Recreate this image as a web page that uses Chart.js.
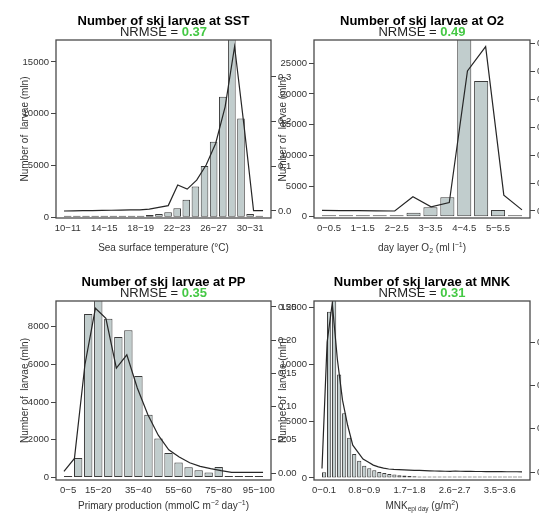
<!DOCTYPE html>
<html>
<head>
<meta charset="utf-8">
<script src="https://cdn.jsdelivr.net/npm/chart.js@4.4.1/dist/chart.umd.min.js"></script>
<style>
  html, body { margin: 0; padding: 0; background: #fff; overflow: hidden; }
  #wrap { position: relative; width: 539px; height: 516px; }
  #wrap canvas { position: absolute; left: 0; top: 0; }
</style>
</head>
<body>
<div id="wrap">
  <canvas id="sst" width="539" height="516"></canvas>
  <canvas id="o2" width="539" height="516"></canvas>
  <canvas id="pp" width="539" height="516"></canvas>
  <canvas id="mnk" width="539" height="516"></canvas>
</div>
<script>
// ---- data ----
// SST
const sstCategories = ['10−11','11−12','12−13','13−14','14−15','15−16','16−17','17−18','18−19','19−20','20−21',
  '21−22','22−23','23−24','24−25','25−26','26−27','27−28','28−29','29−30','30−31','31−32'];
const sstLabelIdx = [0, 4, 8, 12, 16, 20];
const sstBars = [20, 25, 30, 35, 45, 55, 70, 100, 160, 230, 330, 480, 870, 1700, 2970, 4950, 7300, 11650, 19000, 9550, 330, 40];
const sstLine = [0, 0.0003, 0.0006, 0.001, 0.0013, 0.0016, 0.002, 0.0023, 0.0025, 0.004, 0.008, 0.012,
  0.058, 0.049, 0.069, 0.103, 0.151, 0.233, 0.368, 0.19, 0.001, 0.001];
const sstTicks = [0, 5000, 10000, 15000];
const sstDensityTicks = [0, 0.1, 0.2, 0.3];

// O2
const o2Categories = ['0−0.5','0.5−1','1−1.5','1.5−2','2−2.5','2.5−3','3−3.5','3.5−4','4−4.5','4.5−5','5−5.5','5.5−6'];
const o2LabelIdx = [0, 2, 4, 6, 8, 10];
const o2Bars = [20, 20, 30, 60, 80, 650, 1520, 3150, 31000, 22100, 1090, 200];
const o2Line = [0.002, 0.0015, 0.001, 0.0005, 0, 0.051, 0.015, 0.030, 0.502, 0.589, 0.057, 0.004];
const o2Ticks = [0, 5000, 10000, 15000, 20000, 25000];
const o2DensityTicks = [0, 0.1, 0.2, 0.3, 0.4, 0.5, 0.6];

// PP
const ppCategories = ['0−5','5−10','10−15','15−20','20−25','25−30','30−35','35−40','40−45','45−50',
  '50−55','55−60','60−65','65−70','70−75','75−80','80−85','85−90','90−95','95−100'];
const ppLabelIdx = [0, 3, 7, 11, 15, 19];
const ppBars = [60, 1030, 8660, 9600, 8410, 7440, 7800, 5380, 3330, 2060, 1300, 800, 540, 380, 270, 560, 30, 25, 20, 15];
const ppLine = [0.0026, 0.022, 0.163, 0.248, 0.233, 0.158, 0.178, 0.128, 0.088, 0.057,
  0.035, 0.024, 0.0155, 0.010, 0.0065, 0.0035, 0.001, 0.001, 0.001, 0.001];
const ppTicks = [0, 2000, 4000, 6000, 8000];
const ppDensityTicks = [0, 0.05, 0.10, 0.15, 0.20, 0.25];

// MNK
const mnkCategories = ['0−0.1','0.1−0.2','0.2−0.3','0.3−0.4','0.4−0.5','0.5−0.6','0.6−0.7','0.7−0.8','0.8−0.9','0.9−1',
  '1−1.1','1.1−1.2','1.2−1.3','1.3−1.4','1.4−1.5','1.5−1.6','1.6−1.7','1.7−1.8','1.8−1.9','1.9−2',
  '2−2.1','2.1−2.2','2.2−2.3','2.3−2.4','2.4−2.5','2.5−2.6','2.6−2.7','2.7−2.8','2.8−2.9','2.9−3',
  '3−3.1','3.1−3.2','3.2−3.3','3.3−3.4','3.4−3.5','3.5−3.6','3.6−3.7','3.7−3.8','3.8−3.9','3.9−4'];
const mnkLabelIdx = [0, 8, 17, 26, 35];
const mnkBars = [500, 14600, 17500, 9100, 5690, 3540, 2110, 1520, 1080, 850, 680, 530, 440, 360, 300, 250, 210, 180, 150, 130,
  110, 95, 80, 70, 60, 50, 45, 40, 35, 30, 28, 25, 22, 20, 18, 15, 12, 10, 8, 5];
const mnkLine = [0.004, 0.15, 0.195, 0.13, 0.083, 0.054, 0.031, 0.023, 0.015, 0.0115, 0.008, 0.006, 0.0046, 0.0035, 0.003,
  0.0028, 0.0025, 0.0022, 0.002, 0.0018, 0.0016, 0.0014, 0.0012, 0.001, 0.0009, 0.0008, 0.0012, 0.0009, 0.0008, 0.0007,
  0.0006, 0.0006, 0.0005, 0.0005, 0.0004, 0.0004, 0.0003, 0.0003, 0.0003, 0.0002];
const mnkTicks = [0, 5000, 10000, 15000];
const mnkDensityTicks = [0, 0.05, 0.10, 0.15];

// ---- styling ----
const FONT = '"Liberation Sans", Arial, Helvetica, sans-serif';
const BAR_FILL = '#c1cdcd';
const INK = '#333';
const GREEN = '#44c844';

function sized(px, bold) { return (bold ? 'bold ' : '') + px + 'px ' + FONT; }

// draw a row of text pieces (different fonts / colours / offsets) centred on cx
function drawRich(ctx, parts, cx, y) {
  let w = 0;
  parts.forEach(p => { ctx.font = p.font; w += ctx.measureText(p.text).width; });
  let x = cx - w / 2;
  ctx.textAlign = 'left';
  ctx.textBaseline = 'alphabetic';
  parts.forEach(p => {
    ctx.font = p.font;
    ctx.fillStyle = p.color || INK;
    ctx.fillText(p.text, x, y + (p.dy || 0));
    x += ctx.measureText(p.text).width;
  });
}

function panelPlugin(p) {
  return {
    id: 'panelText',
    afterDatasetsDraw(chart) {
      // frame round the plot region
      const a = chart.chartArea, ctx = chart.ctx;
      ctx.save();
      ctx.strokeStyle = '#4a4a4a';
      ctx.lineWidth = 1.3;
      ctx.strokeRect(a.left, a.top, a.right - a.left, a.bottom - a.top);
      ctx.restore();
    },
    afterDraw(chart) {
      const a = chart.chartArea, ctx = chart.ctx;
      const cx = (a.left + a.right) / 2;
      ctx.save();
      drawRich(ctx, [{ text: p.title, font: sized(13, true), color: '#000' }], cx, a.top - 15.5);
      drawRich(ctx, [
        { text: 'NRMSE = ', font: sized(13), color: '#222' },
        { text: p.nrmse, font: sized(13, true), color: GREEN }
      ], cx, a.top - 3.8);
      drawRich(ctx, p.xTitle, cx, p.xTitleY);
      ctx.restore();
    }
  };
}

const tickFont = { family: FONT, size: 9.5 };

function makePanel(id, p) {
  const n = p.categories.length;
  // barplot-like spacing: bar width 1, gap 0.2, 4% extension each side
  const pad = (0.5 + 0.04 * (1.2 * n - 0.2)) / 1.2;
  const b = p.box;
  new Chart(document.getElementById(id), {
    type: 'bar',
    data: {
      datasets: [
        {
          type: 'line',
          data: p.line.map((v, i) => ({ x: i, y: v })),
          xAxisID: 'x2', yAxisID: 'y2',
          borderColor: '#262626', borderWidth: 1.2,
          pointRadius: 0, tension: 0, order: 0
        },
        {
          type: 'bar',
          data: p.bars.map((v, i) => ({ x: i, y: v })),
          xAxisID: 'x', yAxisID: 'y', grouped: false,
          backgroundColor: BAR_FILL, borderColor: '#3a3a3a', borderWidth: 1, borderSkipped: false,
          minBarLength: 1.5,
          categoryPercentage: 1, barPercentage: 1 / 1.2, order: 1
        }
      ]
    },
    options: {
      responsive: false,
      animation: false,
      devicePixelRatio: 1,
      layout: { padding: { left: b.l - p.lw, right: 539 - b.r - p.rw, top: b.t, bottom: 516 - b.b - 30 } },
      plugins: { legend: { display: false }, tooltip: { enabled: false } },
      scales: {
        x: {
          type: 'linear', min: -pad, max: n - 1 + pad, offset: false,
          grid: { display: false, drawTicks: false, tickLength: 0, offset: false }, border: { display: false },
          afterBuildTicks: s => { s.ticks = p.labelIdx.map(v => ({ value: v })); },
          afterFit: s => { s.height = 30; },
          ticks: { autoSkip: false, maxRotation: 0, padding: 5, color: INK, font: tickFont,
                   callback: v => p.categories[v] }
        },
        // the model curve is drawn on its own index axis (1..n with 4% extension)
        x2: { type: 'linear', display: false, offset: false, grid: { offset: false },
              min: -0.04 * (n - 1), max: 1.04 * (n - 1) },
        y: {
          type: 'linear', position: 'left', min: p.yMin, max: p.yMax,
          afterBuildTicks: s => { s.ticks = p.yTicks.map(v => ({ value: v })); },
          afterFit: s => { s.width = p.lw; },
          grid: { drawOnChartArea: false, tickLength: 5, tickColor: '#444' },
          border: { display: false },
          ticks: { autoSkip: false, padding: 2, color: INK, font: tickFont, callback: v => String(v) },
          title: { display: true, text: 'Number of  larvae (mln)', color: INK,
                   font: { family: FONT, size: 10 }, padding: { top: p.yTitlePad, bottom: 0 } }
        },
        y2: {
          type: 'linear', position: 'right', min: p.dMin, max: p.dMax,
          afterBuildTicks: s => { s.ticks = p.dTicks.map(v => ({ value: v })); },
          afterFit: s => { s.width = p.rw; },
          grid: { drawOnChartArea: false, tickLength: 5, tickColor: '#444' },
          border: { display: false },
          ticks: { autoSkip: false, padding: 2, color: INK, font: tickFont, callback: v => v.toFixed(p.dDigits) }
        }
      }
    },
    plugins: [panelPlugin(p)]
  });
}

const t10 = sized(10), t7 = sized(7), t6 = sized(6.5);

makePanel('sst', {
  categories: sstCategories, labelIdx: sstLabelIdx, bars: sstBars, line: sstLine,
  yTicks: sstTicks, yMin: -68, yMax: 17124,
  dTicks: sstDensityTicks, dMin: -0.0157, dMax: 0.3826, dDigits: 1,
  box: { l: 56, r: 271, t: 40, b: 218 }, lw: 56, rw: 30, yTitlePad: 19,
  title: 'Number of skj larvae at SST', nrmse: '0.37', xTitleY: 250.5,
  xTitle: [{ text: 'Sea surface temperature (°C)', font: t10 }]
});

makePanel('o2', {
  categories: o2Categories, labelIdx: o2LabelIdx, bars: o2Bars, line: o2Line,
  yTicks: o2Ticks, yMin: -212, yMax: 28797,
  dTicks: o2DensityTicks, dMin: -0.0251, dMax: 0.6129, dDigits: 1,
  box: { l: 314, r: 530, t: 40, b: 218 }, lw: 44, rw: 9, yTitlePad: 7,
  title: 'Number of skj larvae at O2', nrmse: '0.49', xTitleY: 250.5,
  xTitle: [
    { text: 'day layer O', font: t10 }, { text: '2', font: t7, dy: 2 },
    { text: ' (ml l', font: t10 }, { text: '−1', font: t7, dy: -4 }, { text: ')', font: t10 }
  ]
});

makePanel('pp', {
  categories: ppCategories, labelIdx: ppLabelIdx, bars: ppBars, line: ppLine,
  yTicks: ppTicks, yMin: -132, yMax: 9351,
  dTicks: ppDensityTicks, dMin: -0.0105, dMax: 0.259, dDigits: 2,
  box: { l: 56, r: 271, t: 301, b: 480 }, lw: 56, rw: 30, yTitlePad: 19,
  title: 'Number of skj larvae at PP', nrmse: '0.35', xTitleY: 508.5,
  xTitle: [
    { text: 'Primary production (mmolC m', font: t10 }, { text: '−2', font: t7, dy: -4 },
    { text: ' day', font: t10 }, { text: '−1', font: t7, dy: -4 }, { text: ')', font: t10 }
  ]
});

makePanel('mnk', {
  categories: mnkCategories, labelIdx: mnkLabelIdx, bars: mnkBars, line: mnkLine,
  yTicks: mnkTicks, yMin: -176, yMax: 15554,
  dTicks: mnkDensityTicks, dMin: -0.0092, dMax: 0.1975, dDigits: 2,
  box: { l: 314, r: 530, t: 301, b: 480 }, lw: 44, rw: 9, yTitlePad: 7,
  title: 'Number of skj larvae at MNK', nrmse: '0.31', xTitleY: 508.5,
  xTitle: [
    { text: 'MNK', font: t10 }, { text: 'epi day', font: t6, dy: 2 },
    { text: ' (g/m', font: t10 }, { text: '2', font: t7, dy: -4 }, { text: ')', font: t10 }
  ]
});
</script>
</body>
</html>
